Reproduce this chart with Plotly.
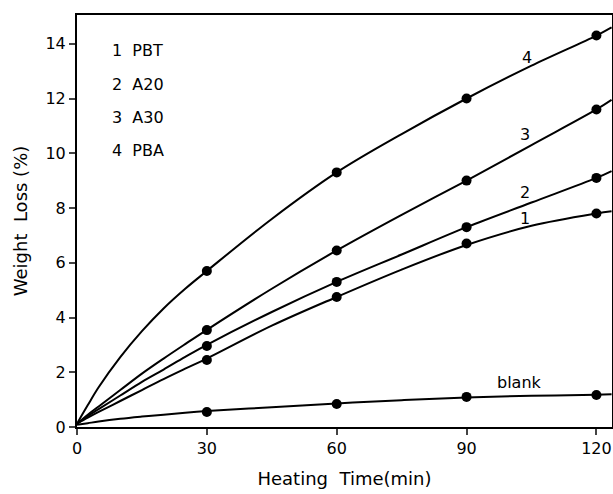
import plotly.graph_objects as go

# measured points
times = [30, 60, 90, 120]
pbt = [2.45, 4.75, 6.7, 7.8]
a20 = [2.96, 5.3, 7.3, 9.1]
a30 = [3.54, 6.45, 9.0, 11.6]
pba = [5.7, 9.3, 12.0, 14.3]
blank = [0.55, 0.84, 1.1, 1.17]

# smooth drawn curves
curve_t = [0, 2.5, 5, 10, 15, 20, 25, 30, 45, 60, 75, 90, 105, 120, 123.5]
pbt_curve = [0.12, 0.34, 0.55, 0.95, 1.35, 1.75, 2.13, 2.5, 3.7, 4.75, 5.75, 6.65, 7.35, 7.8, 7.88]
a20_curve = [0.12, 0.4, 0.65, 1.15, 1.65, 2.1, 2.56, 3.0, 4.2, 5.3, 6.3, 7.3, 8.2, 9.1, 9.35]
a30_curve = [0.12, 0.45, 0.75, 1.35, 1.95, 2.5, 3.03, 3.55, 5.05, 6.45, 7.75, 9.0, 10.3, 11.6, 11.95]
pba_curve = [0.12, 0.8, 1.45, 2.55, 3.5, 4.33, 5.05, 5.7, 7.6, 9.3, 10.7, 12.0, 13.2, 14.3, 14.6]
blank_curve = [0.08, 0.14, 0.2, 0.3, 0.38, 0.45, 0.52, 0.58, 0.72, 0.86, 0.98, 1.08, 1.14, 1.18, 1.2]

legend_lines = ["1  PBT", "2  A20", "3  A30", "4  PBA"]
curve_labels = ["1", "2", "3", "4", "blank"]

FONT = "DejaVu Sans"
W, H = 613, 494
ML, MR, MT, MB = 77, 1, 15, 67
PW, PH = W - ML - MR, H - MT - MB

fig = go.Figure()
for c in [pbt_curve, a20_curve, a30_curve, pba_curve, blank_curve]:
    fig.add_trace(go.Scatter(x=curve_t, y=c, mode="lines",
                             line=dict(color="black", width=2, shape="spline", smoothing=1.0),
                             showlegend=False, hoverinfo="skip"))
for s in [pbt, a20, a30, pba, blank]:
    fig.add_trace(go.Scatter(x=times, y=s, mode="markers", marker=dict(color="black", size=10),
                             showlegend=False))

# legend text block (top-left inside the frame)
for i, t in enumerate(legend_lines):
    fig.add_annotation(x=(110 - ML) / PW, y=1 - (51 + 33 * i - MT) / PH, xref="paper", yref="paper",
                       text=t, showarrow=False, xanchor="left", yanchor="middle",
                       font=dict(family=FONT, size=16, color="black"))

label_pos = [(103.5, 7.6), (103.5, 8.55), (103.5, 10.7), (104, 13.5), (102.3, 1.64)]
for lab, (lx, ly) in zip(curve_labels, label_pos):
    fig.add_annotation(x=lx, y=ly, text=lab, showarrow=False, font=dict(family=FONT, size=16, color="black"))

fig.update_layout(
    width=W, height=H,
    margin=dict(l=ML, r=MR, t=MT, b=MB, autoexpand=False),
    paper_bgcolor="white", plot_bgcolor="white",
    font=dict(family=FONT, size=16, color="black"),
)
fig.update_xaxes(range=[0, 123.6], tickvals=[0, 30, 60, 90, 120], ticks="outside", ticklen=6, tickwidth=2,
                 showline=True, linecolor="black", linewidth=2, mirror=True, showgrid=False, zeroline=False,
                 automargin=False,
                 title=dict(text="Heating  Time(min)", standoff=15, font=dict(size=18)))
fig.update_yaxes(range=[0, 15.05], tickvals=[0, 2, 4, 6, 8, 10, 12, 14], ticks="outside", ticklen=6, tickwidth=2,
                 showline=True, linecolor="black", linewidth=2, mirror=True, showgrid=False, zeroline=False,
                 automargin=False,
                 title=dict(text="Weight  Loss (%)", standoff=13, font=dict(size=18)))

fig.write_html("out.html", config={"displayModeBar": False},
               post_script="document.body.style.margin='0';document.body.style.overflow='hidden';")
